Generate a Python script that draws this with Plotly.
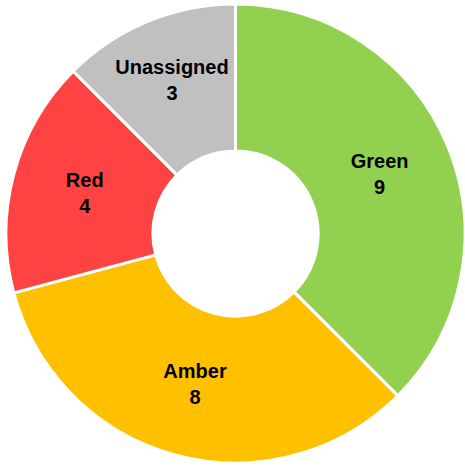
import plotly.graph_objects as go

labels = ["Green", "Amber", "Red", "Unassigned"]
values = [9, 8, 4, 3]
colors = ["#92D050", "#FFC000", "#FF4343", "#C0C0C0"]

fig = go.Figure(go.Pie(
    labels=labels,
    values=values,
    marker=dict(colors=colors, line=dict(color="white", width=3)),
    hole=0.36,
    sort=False,
    direction="clockwise",
    rotation=0,
    texttemplate="<b>%{label}<br>%{value}</b>",
    textposition="inside",
    insidetextorientation="horizontal",
    textfont=dict(family="Liberation Sans, Arial, sans-serif", size=20, color="black"),
    showlegend=False,
    hoverinfo="label+value",
))
fig.update_layout(
    width=465, height=466,
    margin=dict(l=6, r=0, t=3, b=2),
    paper_bgcolor="white",
    plot_bgcolor="white",
    uniformtext=dict(minsize=20, mode="show"),
)
fig.write_html("out.html")
